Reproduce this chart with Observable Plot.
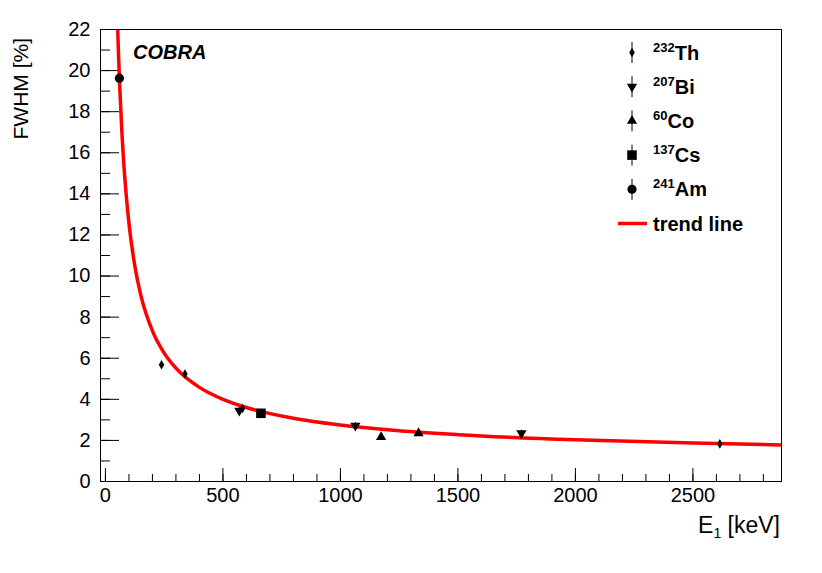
<!DOCTYPE html>
<html><head><meta charset="utf-8">
<script src="https://cdn.jsdelivr.net/npm/d3@7"></script>
<script src="https://cdn.jsdelivr.net/npm/@observablehq/plot@0.6"></script>
<style>
body{margin:0;background:#fff;}
#wrap{position:relative;width:822px;height:573px;}
</style></head><body><div id="wrap"></div>
<script>
// Measured points (energy keV, FWHM %)
const thE = [238.6, 338.3, 583.2, 2614.5];
const thF = [5.68, 5.23, 3.55, 1.83];
const biE = [569.7, 1063.7, 1770.2];
const biF = [3.45, 2.72, 2.35];
const coE = [1173.2, 1332.5];
const coF = [2.16, 2.35];
const csE = [661.7];
const csF = [3.32];
const amE = [59.5];
const amF = [19.63];
const errF = 0.15;
// Trend line
const trendE = [51, 55, 60, 70, 80, 100, 125, 150, 200, 250, 300, 400, 500, 600, 800, 1000, 1250, 1500, 2000, 2500, 2880];
const trendF = [22.47, 21.01, 19.45, 17.01, 15.17, 12.58, 10.50, 9.10, 7.33, 6.25, 5.52, 4.58, 4.00, 3.60, 3.08, 2.75, 2.47, 2.28, 2.03, 1.87, 1.78];
// Ticks
const majorX = [0, 500, 1000, 1500, 2000, 2500];
const minorX = d3.range(0, 2900, 100);
const majorY = [0, 2, 4, 6, 8, 10, 12, 14, 16, 18, 20, 22];
const minorY = d3.range(0, 23, 1);

const W = 822, H = 573, mL = 100, mR = 41, mT = 29, mB = 92;
const iW = W - mL - mR, iH = H - mT - mB;

const mk = (E, F, s) => E.map((e, i) => ({E: e, F: F[i], s}));
const points = [...mk(thE, thF, "Th"), ...mk(biE, biF, "Bi"), ...mk(coE, coF, "Co"), ...mk(csE, csF, "Cs"), ...mk(amE, amF, "Am")];
const trend = trendE.map((e, i) => ({E: e, F: trendF[i]}));

const svg = Plot.plot({
  width: W, height: H,
  marginLeft: mL, marginRight: mR, marginTop: mT, marginBottom: mB,
  style: {fontFamily: "'Liberation Sans', Arial, sans-serif", fontSize: "20px", background: "#fff", color: "#000"},
  x: {domain: [-21, 2877], label: null},
  y: {domain: [0, 22], label: null},
  marks: [
    Plot.tickX(minorX, {x: d => d, insetTop: iH - 7, stroke: "#000", strokeWidth: 1}),
    Plot.tickX(majorX, {x: d => d, insetTop: iH - 13, stroke: "#000", strokeWidth: 1}),
    Plot.tickY(minorY, {y: d => d, insetRight: iW - 10, stroke: "#000", strokeWidth: 1}),
    Plot.tickY(majorY, {y: d => d, insetRight: iW - 19, stroke: "#000", strokeWidth: 1}),
    Plot.axisX({ticks: majorX, tickSize: 0, tickPadding: 6, fontSize: 20, tickFormat: d => String(d)}),
    Plot.axisY({ticks: majorY, tickSize: 0, tickPadding: 10, fontSize: 20, tickFormat: d => String(d)}),
    Plot.ruleX(points, {x: "E", y1: d => d.F - errF, y2: d => d.F + errF, stroke: "#000"}),
    Plot.line(trend, {x: "E", y: "F", stroke: "#ff0000", strokeWidth: 3.5, curve: "monotone-x", clip: true}),
    Plot.dot(points.filter(d => d.s === "Th"), {x: "E", y: "F", symbol: "diamond", r: 2.9, fill: "#000"}),
    Plot.dot(points.filter(d => d.s === "Bi"), {x: "E", y: "F", symbol: "triangle", r: 3.8, fill: "#000", rotate: 180}),
    Plot.dot(points.filter(d => d.s === "Co"), {x: "E", y: "F", symbol: "triangle", r: 3.8, fill: "#000"}),
    Plot.dot(points.filter(d => d.s === "Cs"), {x: "E", y: "F", symbol: "square", r: 5.4, fill: "#000"}),
    Plot.dot(points.filter(d => d.s === "Am"), {x: "E", y: "F", symbol: "circle", r: 4.6, fill: "#000"}),
    Plot.frame({stroke: "#000", strokeWidth: 1})
  ]
});
document.getElementById("wrap").appendChild(svg);

// Overlay texts and legend
const g = d3.select(svg).append("g").attr("font-family", "'Liberation Sans', Arial, sans-serif").attr("fill", "#000").attr("text-anchor", "start");
g.append("text").attr("x", 133).attr("y", 59).attr("font-size", 20).attr("font-weight", "bold").attr("font-style", "italic").text("COBRA");

g.append("text").attr("transform", "translate(28,38) rotate(-90)").attr("text-anchor", "end").attr("font-size", 21).text("FWHM [%]");

const xt = g.append("text").attr("x", 780).attr("y", 533).attr("text-anchor", "end").attr("font-size", 23);
xt.append("tspan").text("E");
xt.append("tspan").attr("font-size", 14).attr("dy", 5).text("1");
xt.append("tspan").attr("dy", -5).text("\u00a0[keV]");

const legendNames = [["232", "Th", "diamond"], ["207", "Bi", "triangleDown"], ["60", "Co", "triangle"], ["137", "Cs", "square"], ["241", "Am", "circle"]];
const symSize = {diamond: Math.PI * 2.9 * 2.9, triangle: Math.PI * 3.8 * 3.8, triangleDown: Math.PI * 3.8 * 3.8, square: Math.PI * 5.4 * 5.4, circle: Math.PI * 4.6 * 4.6};
const symType = {diamond: d3.symbolDiamond, triangle: d3.symbolTriangle, triangleDown: d3.symbolTriangle, square: d3.symbolSquare, circle: d3.symbolCircle};
legendNames.forEach(([sup, name, sym], i) => {
  const cy = 52.5 + 34.2 * i;
  g.append("line").attr("x1", 632).attr("x2", 632).attr("y1", cy - 10.5).attr("y2", cy + 10.5).attr("stroke", "#000");
  g.append("path").attr("d", d3.symbol(symType[sym], symSize[sym])())
    .attr("transform", `translate(632,${cy})` + (sym === "triangleDown" ? " rotate(180)" : ""));
  const t = g.append("text").attr("x", 653).attr("y", cy + 7).attr("font-size", 20).attr("font-weight", "bold");
  t.append("tspan").attr("font-size", 13).attr("dy", -8).text(sup);
  t.append("tspan").attr("dy", 8).text(name);
});
const cyT = 52.5 + 34.2 * 5;
g.append("line").attr("x1", 618).attr("x2", 647).attr("y1", cyT).attr("y2", cyT).attr("stroke", "#ff0000").attr("stroke-width", 3.5);
g.append("text").attr("x", 653).attr("y", cyT + 7).attr("font-size", 20).attr("font-weight", "bold").text("trend line");
</script>
</body></html>
